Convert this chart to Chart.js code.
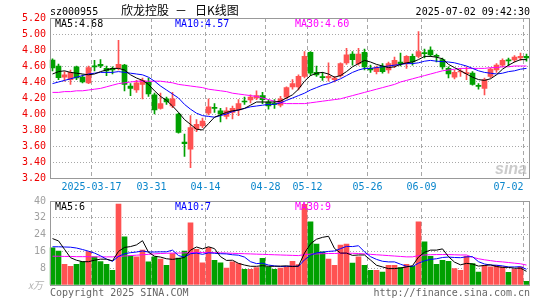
<!DOCTYPE html>
<html>
<head>
<meta charset="utf-8">
<script src="https://cdn.jsdelivr.net/npm/chart.js@4.4.1/dist/chart.umd.min.js"></script>
<style>
  html, body { margin: 0; padding: 0; background: #fff; }
  #wrap { position: relative; width: 545px; height: 300px; background: #fff; overflow: hidden; }
  #wrap canvas { position: absolute; left: 0; }
  #priceChart { top: 0; }
  #volChart { top: 190px; }
</style>
</head>
<body>
<div id="wrap">
  <canvas id="priceChart" width="545" height="200"></canvas>
  <canvas id="volChart" width="545" height="110"></canvas>
</div>
<script>
// trading days shown (2025-03-06 .. 2025-07-02)
const dates = [
  '2025-03-06','2025-03-07','2025-03-10','2025-03-11','2025-03-12','2025-03-13','2025-03-14','2025-03-17','2025-03-18','2025-03-19',
  '2025-03-20','2025-03-21','2025-03-24','2025-03-25','2025-03-26','2025-03-27','2025-03-28','2025-03-31','2025-04-01','2025-04-02',
  '2025-04-03','2025-04-07','2025-04-08','2025-04-09','2025-04-10','2025-04-11','2025-04-14','2025-04-15','2025-04-16','2025-04-17',
  '2025-04-18','2025-04-21','2025-04-22','2025-04-23','2025-04-24','2025-04-25','2025-04-28','2025-04-29','2025-04-30','2025-05-06',
  '2025-05-07','2025-05-08','2025-05-09','2025-05-12','2025-05-13','2025-05-14','2025-05-15','2025-05-16','2025-05-19','2025-05-20',
  '2025-05-21','2025-05-22','2025-05-23','2025-05-26','2025-05-27','2025-05-28','2025-05-29','2025-05-30','2025-06-03','2025-06-04',
  '2025-06-05','2025-06-06','2025-06-09','2025-06-10','2025-06-11','2025-06-12','2025-06-13','2025-06-16','2025-06-17','2025-06-18',
  '2025-06-19','2025-06-20','2025-06-23','2025-06-24','2025-06-25','2025-06-26','2025-06-27','2025-06-30','2025-07-01','2025-07-02'
];
const tickDates = ['2025-03-17','2025-03-31','2025-04-14','2025-04-28','2025-05-12','2025-05-26','2025-06-09','2025-07-02'];
const priceTicks = [3.2, 3.4, 3.6, 3.8, 4.0, 4.2, 4.4, 4.6, 4.8, 5.0, 5.2];
const volTicks = [0, 8, 16, 24, 32, 40];

// daily K line
const opens = [
  4.675, 4.60, 4.46, 4.43, 4.59, 4.46, 4.39, 4.60, 4.62, 4.57,
  4.57, 4.57, 4.61, 4.35, 4.30, 4.37, 4.40, 4.24, 4.07, 4.19,
  4.10, 4.00, 3.65, 3.56, 3.81, 3.85, 4.01, 4.08, 4.04, 3.97,
  4.02, 4.05, 4.16, 4.175, 4.20, 4.23, 4.15, 4.13, 4.11, 4.21,
  4.34, 4.34, 4.47, 4.77, 4.52, 4.465, 4.45, 4.43, 4.48, 4.64,
  4.75, 4.63, 4.77, 4.57, 4.53, 4.60, 4.55, 4.61, 4.65, 4.63,
  4.72, 4.72, 4.765, 4.80, 4.73, 4.68, 4.57, 4.46, 4.525, 4.505,
  4.51, 4.355, 4.32, 4.47, 4.55, 4.61, 4.67, 4.675, 4.70, 4.72
];
const highs = [
  4.69, 4.625, 4.53, 4.55, 4.60, 4.49, 4.60, 4.67, 4.68, 4.60,
  4.59, 4.92, 4.62, 4.38, 4.42, 4.45, 4.45, 4.26, 4.26, 4.21,
  4.27, 4.01, 3.75, 3.98, 3.93, 3.95, 4.19, 4.13, 4.07, 4.08,
  4.10, 4.18, 4.21, 4.24, 4.29, 4.27, 4.18, 4.18, 4.22, 4.34,
  4.43, 4.49, 4.78, 4.78, 4.60, 4.52, 4.64, 4.47, 4.64, 4.82,
  4.78, 4.82, 4.81, 4.61, 4.60, 4.63, 4.65, 4.71, 4.76, 4.73,
  4.75, 5.03, 4.81, 4.84, 4.75, 4.70, 4.59, 4.55, 4.57, 4.59,
  4.53, 4.38, 4.45, 4.57, 4.63, 4.69, 4.70, 4.73, 4.76, 4.75
];
const lows = [
  4.54, 4.43, 4.41, 4.37, 4.43, 4.39, 4.38, 4.54, 4.58, 4.48,
  4.50, 4.55, 4.29, 4.23, 4.27, 4.19, 4.22, 4.00, 4.06, 4.12,
  4.08, 3.76, 3.47, 3.33, 3.78, 3.83, 3.99, 4.02, 3.90, 3.94,
  3.94, 3.98, 4.12, 4.14, 4.18, 4.13, 4.06, 4.07, 4.09, 4.19,
  4.31, 4.30, 4.45, 4.48, 4.47, 4.42, 4.41, 4.40, 4.46, 4.62,
  4.61, 4.61, 4.55, 4.52, 4.50, 4.51, 4.51, 4.58, 4.60, 4.57,
  4.61, 4.70, 4.70, 4.72, 4.65, 4.56, 4.45, 4.44, 4.47, 4.43,
  4.36, 4.31, 4.24, 4.45, 4.52, 4.59, 4.60, 4.65, 4.67, 4.66
];
const closes = [
  4.575, 4.455, 4.49, 4.52, 4.45, 4.40, 4.58, 4.59, 4.60, 4.54,
  4.55, 4.62, 4.37, 4.32, 4.39, 4.42, 4.25, 4.05, 4.13, 4.15,
  4.19, 3.77, 3.63, 3.83, 3.87, 3.91, 4.09, 4.07, 4.00, 4.04,
  4.07, 4.13, 4.15, 4.21, 4.23, 4.18, 4.10, 4.12, 4.19, 4.33,
  4.38, 4.47, 4.72, 4.51, 4.49, 4.455, 4.47, 4.45, 4.63, 4.74,
  4.68, 4.75, 4.59, 4.55, 4.58, 4.53, 4.63, 4.67, 4.63, 4.72,
  4.65, 4.78, 4.755, 4.74, 4.72, 4.59, 4.50, 4.52, 4.535, 4.515,
  4.37, 4.345, 4.43, 4.56, 4.61, 4.67, 4.665, 4.71, 4.72, 4.70
];
const ma5 = [
  4.50, 4.53, 4.54, 4.52, 4.51, 4.50, 4.49, 4.50, 4.53, 4.55,
  4.57, 4.57, 4.55, 4.49, 4.45, 4.42, 4.37, 4.29, 4.22, 4.17,
  4.10, 4.02, 3.93, 3.87, 3.81, 3.80, 3.88, 3.96, 3.99, 4.02,
  4.04, 4.05, 4.07, 4.11, 4.15, 4.15, 4.15, 4.15, 4.16, 4.20,
  4.24, 4.31, 4.41, 4.48, 4.51, 4.52, 4.50, 4.46, 4.48, 4.53,
  4.59, 4.63, 4.67, 4.65, 4.62, 4.60, 4.58, 4.59, 4.62, 4.64,
  4.65, 4.68, 4.72, 4.72, 4.71, 4.69, 4.62, 4.58, 4.54, 4.50,
  4.46, 4.43, 4.42, 4.44, 4.49, 4.56, 4.61, 4.65, 4.68, 4.68
];
const ma10 = [
  4.38, 4.40, 4.42, 4.44, 4.46, 4.48, 4.50, 4.51, 4.52, 4.52,
  4.52, 4.53, 4.52, 4.51, 4.50, 4.49, 4.46, 4.41, 4.35, 4.30,
  4.25, 4.20, 4.12, 4.06, 4.01, 3.98, 3.97, 3.96, 3.98, 4.00,
  4.03, 4.05, 4.07, 4.09, 4.10, 4.11, 4.12, 4.12, 4.14, 4.17,
  4.20, 4.23, 4.26, 4.30, 4.33, 4.36, 4.38, 4.41, 4.44, 4.48,
  4.52, 4.55, 4.57, 4.57, 4.58, 4.59, 4.60, 4.61, 4.62, 4.63,
  4.63, 4.64, 4.66, 4.67, 4.66, 4.655, 4.65, 4.64, 4.62, 4.60,
  4.57, 4.54, 4.52, 4.51, 4.50, 4.51, 4.53, 4.54, 4.56, 4.57
];
const ma30 = [
  4.27, 4.27, 4.28, 4.28, 4.29, 4.29, 4.30, 4.31, 4.32, 4.34,
  4.36, 4.38, 4.39, 4.40, 4.41, 4.41, 4.41, 4.41, 4.41, 4.40,
  4.39, 4.37, 4.36, 4.35, 4.34, 4.33, 4.31, 4.30, 4.29, 4.28,
  4.26, 4.25, 4.24, 4.23, 4.22, 4.20, 4.18, 4.16, 4.14, 4.13,
  4.13, 4.13, 4.13, 4.14, 4.15, 4.16, 4.17, 4.18, 4.19, 4.21,
  4.23, 4.25, 4.27, 4.29, 4.31, 4.33, 4.35, 4.37, 4.40, 4.42,
  4.44, 4.46, 4.48, 4.50, 4.52, 4.54, 4.55, 4.56, 4.57, 4.57,
  4.57, 4.57, 4.57, 4.58, 4.58, 4.59, 4.59, 4.60, 4.60, 4.60
];

// volume, x万 (ten-thousand lots)
const volumes = [
  17.7, 16.1, 9.9, 8.9, 9.9, 11.1, 15.9, 13.4, 11.1, 9.9,
  7.0, 38.5, 22.9, 13.9, 13.4, 16.6, 11.0, 13.4, 12.3, 9.4,
  15.0, 12.8, 16.1, 29.6, 17.0, 10.5, 17.8, 11.8, 10.5, 8.1,
  11.0, 10.2, 7.5, 7.5, 8.3, 12.7, 8.6, 7.5, 8.0, 8.6,
  11.3, 9.7, 38.4, 30.1, 19.5, 15.8, 12.3, 9.4, 19.0, 19.5,
  10.4, 13.4, 9.4, 7.0, 7.0, 6.2, 9.4, 9.4, 8.3, 9.9,
  8.9, 30.1, 20.6, 13.7, 9.9, 11.8, 11.3, 7.8, 7.0, 13.7,
  10.2, 6.2, 9.4, 8.6, 9.4, 8.6, 6.0, 7.6, 8.6, 1.8
];
const volMa5 = [
  22.1, 21.0, 17.0, 13.0, 11.8, 11.1, 11.1, 11.8, 12.3, 12.3,
  11.5, 16.0, 17.9, 18.3, 19.1, 21.1, 15.6, 13.7, 13.3, 12.5,
  12.2, 12.6, 13.1, 16.6, 18.1, 17.2, 18.2, 17.3, 13.5, 11.7,
  11.8, 10.3, 9.5, 8.9, 8.9, 9.2, 8.9, 8.9, 9.0, 9.1,
  8.8, 9.0, 15.2, 19.6, 21.8, 22.7, 23.2, 17.4, 15.2, 15.2,
  14.1, 14.3, 14.3, 11.9, 9.4, 8.6, 7.8, 7.8, 8.1, 8.6,
  9.2, 13.3, 15.6, 16.6, 16.6, 17.2, 13.5, 10.9, 9.6, 10.3,
  10.0, 9.0, 9.3, 9.6, 8.8, 8.4, 8.4, 8.0, 8.0, 6.5
];
const volMa10 = [
  18.2, 18.2, 18.1, 18.0, 17.6, 16.9, 16.1, 15.2, 13.9, 12.3,
  11.3, 13.6, 14.9, 15.4, 15.7, 16.2, 15.7, 15.7, 15.8, 15.8,
  16.6, 14.0, 13.3, 14.9, 15.2, 14.6, 15.3, 15.1, 14.9, 14.8,
  14.4, 14.2, 13.3, 11.1, 10.2, 10.4, 9.5, 9.1, 8.8, 8.9,
  8.9, 8.9, 12.0, 14.2, 15.3, 15.6, 16.0, 16.2, 17.3, 18.4,
  18.3, 18.7, 15.8, 13.5, 12.2, 11.3, 11.0, 11.0, 9.9, 8.9,
  8.8, 10.4, 11.5, 12.2, 12.5, 13.1, 13.3, 13.1, 13.0, 13.4,
  13.5, 11.1, 10.0, 9.5, 9.4, 9.1, 8.6, 8.6, 8.7, 7.5
];
const volMa30 = [
  13.7, 13.7, 13.6, 13.6, 13.5, 13.5, 13.5, 13.4, 13.4, 13.4,
  13.4, 13.6, 13.8, 14.0, 14.2, 14.4, 14.6, 14.8, 15.0, 15.1,
  15.2, 15.2, 15.3, 15.4, 15.5, 15.5, 15.5, 15.4, 15.3, 15.2,
  15.1, 15.0, 14.9, 14.8, 14.7, 14.6, 14.5, 14.4, 14.3, 14.2,
  14.1, 14.0, 14.5, 14.7, 14.8, 14.9, 15.0, 15.0, 15.1, 15.1,
  15.1, 15.0, 14.8, 14.6, 14.4, 14.2, 14.0, 13.8, 13.6, 13.4,
  13.4, 14.0, 14.3, 14.4, 14.5, 14.5, 14.5, 14.4, 14.3, 14.3,
  13.2, 12.5, 12.0, 11.6, 11.2, 11.0, 10.7, 10.4, 10.1, 9.5
];

const RED = '#ff5252';
const GREEN = '#00a000';
const MONO = '"DejaVu Sans Mono", monospace';
const GRID = '#a8a8a8';

Chart.defaults.font.family = MONO;
Chart.defaults.font.size = 10;

const tickIdx = tickDates.map(d => dates.indexOf(d));
const candleColor = c => closes[c.dataIndex] >= opens[c.dataIndex] ? RED : GREEN;

const maLine = (data, color) => ({
    type: 'line', data, borderColor: color, borderWidth: 1,
    pointRadius: 0, fill: false, tension: 0, order: 0
});

// shared x axis: only dashed lines at the labelled days
const xAxis = (h) => ({
    ticks: { display: false, autoSkip: false },
    grid: { offset: true, drawTicks: false, color: c => tickIdx.includes(c.index) ? GRID : 'rgba(0,0,0,0)' },
    border: { display: false, dash: [4, 3] },
    afterFit: s => { s.height = h; }
});

const yGrid = n => ({
    drawTicks: false,
    color: c => (c.index === 0 || c.index === n - 1) ? 'rgba(0,0,0,0)' : GRID
});

const frame = (ctx, a) => {
    ctx.strokeStyle = '#999';
    ctx.lineWidth = 1;
    ctx.strokeRect(50.5, a.top + 0.5, a.right - 50.5, a.bottom - a.top);
};

const pricePlugin = {
    id: 'priceDecor',
    afterDraw(chart) {
        const { ctx, chartArea: a, scales: { x } } = chart;
        ctx.save();
        frame(ctx, a);

        // date labels under the price panel
        ctx.font = '10px ' + MONO;
        ctx.fillStyle = '#0a86cc';
        ctx.textBaseline = 'alphabetic';
        const half = (x.getPixelForValue(1) - x.getPixelForValue(0)) / 2;
        tickDates.forEach((d, k) => {
            const gx = x.getPixelForValue(tickIdx[k]) - half;
            const txt = k === 0 ? d : d.slice(5);
            const w = ctx.measureText(txt).width;
            let tx = gx - w / 2;
            if (tx + w > a.right) tx = gx - w;
            ctx.fillText(txt, tx, 190);
        });

        // header
        ctx.fillStyle = '#000';
        ctx.fillText('sz000955', 50, 15);
        ctx.textAlign = 'right';
        ctx.fillText('2025-07-02 09:42:30', 530, 15);
        ctx.textAlign = 'left';
        ctx.font = '12px "Noto Sans CJK SC"';
        ctx.fillText('欣龙控股', 121, 15);
        ctx.fillText('－', 175, 15);
        ctx.fillText('日K线图', 195, 15);

        // MA legend
        ctx.font = '10px ' + MONO;
        ctx.fillStyle = '#000';
        ctx.fillText('MA5:' + ma5[ma5.length - 1].toFixed(2), 55, 27);
        ctx.fillStyle = '#0000ff';
        ctx.fillText('MA10:' + ma10[ma10.length - 1].toFixed(2), 175, 27);
        ctx.fillStyle = '#ff00ff';
        ctx.fillText('MA30:' + ma30[ma30.length - 1].toFixed(2), 295, 27);

        // watermark
        ctx.font = 'italic bold 16px "Liberation Sans"';
        ctx.fillStyle = 'rgba(185,185,185,0.75)';
        ctx.textAlign = 'right';
        ctx.fillText('sina', 527, 174);
        ctx.restore();
    }
};

const volPlugin = {
    id: 'volDecor',
    afterDraw(chart) {
        const { ctx, chartArea: a } = chart;
        ctx.save();
        frame(ctx, a);
        ctx.font = '10px ' + MONO;
        ctx.textBaseline = 'alphabetic';
        ctx.fillStyle = '#000';
        ctx.fillText('MA5:' + Math.floor(volMa5[volMa5.length - 1]), 55, 20);
        ctx.fillStyle = '#0000ff';
        ctx.fillText('MA10:' + Math.floor(volMa10[volMa10.length - 1]), 175, 20);
        ctx.fillStyle = '#ff00ff';
        ctx.fillText('MA30:' + Math.floor(volMa30[volMa30.length - 1]), 295, 20);

        ctx.fillStyle = '#666';
        ctx.fillText('Copyright 2025 SINA.COM', 50, 106);
        ctx.textAlign = 'right';
        ctx.fillText('http://finance.sina.com.cn', 530, 106);
        ctx.textAlign = 'left';
        ctx.fillStyle = '#b0b0b0';
        ctx.font = 'italic 10px "Noto Sans CJK SC"';
        ctx.fillText('x万', 28, 99);
        ctx.restore();
    }
};

new Chart(document.getElementById('priceChart'), {
    type: 'bar',
    data: {
        labels: dates,
        datasets: [
            maLine(ma5, '#000000'),
            maLine(ma10, '#0000ff'),
            maLine(ma30, '#ff00ff'),
            { data: opens.map((o, i) => [o, closes[i]]), backgroundColor: candleColor,
              barThickness: 5, minBarLength: 1, grouped: false, order: 1 },
            { data: lows.map((l, i) => [l, highs[i]]), backgroundColor: candleColor,
              barThickness: 1, grouped: false, order: 2 }
        ]
    },
    options: {
        responsive: false,
        animation: false,
        devicePixelRatio: 1,
        layout: { padding: { top: 18, right: 15.5, left: 0, bottom: 0 } },
        plugins: { legend: { display: false }, tooltip: { enabled: false } },
        scales: {
            x: xAxis(22),
            y: {
                min: 3.2, max: 5.2,
                afterBuildTicks: s => { s.ticks = priceTicks.map(v => ({ value: v })); },
                afterFit: s => { s.width = 49.5; },
                ticks: { color: '#ee0000', padding: 3.5, callback: v => Number(v).toFixed(2) },
                grid: yGrid(priceTicks.length),
                border: { display: false, dash: [1, 2] }
            }
        }
    },
    plugins: [pricePlugin]
});

new Chart(document.getElementById('volChart'), {
    type: 'bar',
    data: {
        labels: dates,
        datasets: [
            maLine(volMa5, '#000000'),
            maLine(volMa10, '#0000ff'),
            maLine(volMa30, '#ff00ff'),
            { data: volumes, backgroundColor: candleColor, barThickness: 5, grouped: false, order: 1 }
        ]
    },
    options: {
        responsive: false,
        animation: false,
        devicePixelRatio: 1,
        layout: { padding: { top: 11, right: 15.5, left: 0, bottom: 0 } },
        plugins: { legend: { display: false }, tooltip: { enabled: false } },
        scales: {
            x: xAxis(15),
            y: {
                min: 0, max: 40,
                afterBuildTicks: s => { s.ticks = volTicks.map(v => ({ value: v })); },
                afterFit: s => { s.width = 49.5; },
                ticks: { color: '#a0a0a0', padding: 3.5, callback: v => v === 0 ? '' : v },
                grid: yGrid(volTicks.length),
                border: { display: false, dash: [1, 2] }
            }
        }
    },
    plugins: [volPlugin]
});
</script>
</body>
</html>
